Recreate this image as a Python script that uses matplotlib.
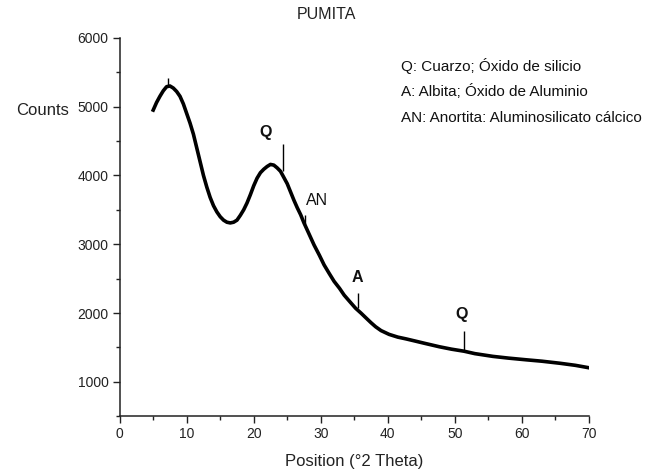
import matplotlib

matplotlib.use("Agg")
import matplotlib.pyplot as plt
from matplotlib.ticker import MultipleLocator

plt.rcParams["font.family"] = ["Liberation Sans", "DejaVu Sans"]

# Diffractogram background read-out: 2-theta position and counts
two_theta = [
    5.0, 5.5, 6.0, 6.5, 7.0, 7.5, 8.0, 8.5, 9.0, 9.5, 10.0, 10.5, 11.0,
    11.5, 12.0, 12.5, 13.0, 13.5, 14.0, 14.5, 15.0, 15.5, 16.0, 16.5, 17.0,
    17.5, 18.0, 18.5, 19.0, 19.5, 20.0, 20.5, 21.0, 21.5, 22.0, 22.5, 23.0,
    23.5, 24.0, 24.5, 25.0, 25.5, 26.0, 26.5, 27.0, 27.5, 28.3, 29.0, 29.8,
    30.5, 31.3, 32.0, 32.8, 33.5, 34.3, 35.2, 36.0, 36.8, 37.5, 38.2, 39.0,
    40.2, 41.5, 42.7, 44.0, 45.5, 47.7, 49.5, 51.4, 53.0, 55.7, 58.0, 60.7,
    63.0, 65.7, 68.0, 70.0,
]
counts = [
    4950, 5060, 5150, 5230, 5290, 5300, 5270, 5220, 5150, 5040, 4900, 4760,
    4600, 4400, 4200, 4000, 3830, 3680, 3560, 3470, 3400, 3350, 3320, 3310,
    3320, 3350, 3420, 3500, 3600, 3720, 3850, 3960, 4040, 4090, 4130, 4160,
    4150, 4110, 4060, 3970, 3880, 3760, 3640, 3530, 3430, 3310, 3140, 2990,
    2840, 2700, 2570, 2460, 2360, 2260, 2170, 2070, 2000, 1925, 1860, 1800,
    1745, 1690, 1650, 1625, 1595, 1560, 1510, 1475, 1445, 1410, 1370, 1345,
    1320, 1300, 1270, 1240, 1205,
]

# Sharp reflections: position, base and top counts
spike_x = [7.2, 24.3, 27.6, 35.5, 51.4]
spike_base = [5290, 4060, 3300, 2070, 1445]
spike_top = [5420, 4460, 3430, 2290, 1740]

# Phase labels placed over their reflections
peak_labels = ["Q", "AN", "A", "Q"]
peak_x = [21.7, 29.5, 35.4, 51.0]
peak_y = [4620, 3640, 2520, 1975]
peak_bold = [True, False, True, True]

legend_lines = [
    "Q: Cuarzo; Óxido de silicio",
    "A: Albita; Óxido de Aluminio",
    "AN: Anortita: Aluminosilicato cálcico",
]

fig = plt.figure(figsize=(6.47, 4.73), dpi=100)
ax = fig.add_axes([0.185, 0.120, 0.725, 0.800])

ax.plot(two_theta, counts, color="black", lw=2.6, solid_joinstyle="round")
ax.vlines(spike_x, spike_base, spike_top, color="black", lw=1.0)

ax.set_xlim(0, 70)
ax.set_ylim(500, 6000)
ax.xaxis.set_major_locator(MultipleLocator(10))
ax.xaxis.set_minor_locator(MultipleLocator(5))
ax.yaxis.set_minor_locator(MultipleLocator(500))
ax.set_yticks(range(1000, 6001, 1000))
ax.tick_params(which="major", direction="out", length=5, width=1, labelsize=10,
               colors="#222222", pad=3)
ax.tick_params(which="minor", direction="out", length=3, width=1, colors="#222222")
for side in ("top", "right"):
    ax.spines[side].set_visible(False)
for side in ("left", "bottom"):
    ax.spines[side].set_linewidth(1.1)
    ax.spines[side].set_color("#222222")

ax.set_xlabel("Position (°2 Theta)", fontsize=12, color="#222222", labelpad=9)
fig.text(0.106, 0.766, "Counts", ha="right", va="center", fontsize=12, color="#222222")
fig.text(0.504, 0.970, "PUMITA", ha="center", va="center", fontsize=11.5, color="#222222")

for lab, x, y, bold in zip(peak_labels, peak_x, peak_y, peak_bold):
    ax.text(x, y, lab, ha="center", va="center", fontsize=11.5,
            fontweight="bold" if bold else "normal", color="#111111")

for i, line in enumerate(legend_lines):
    fig.text(0.620, 0.861 - i * 0.0555, line, ha="left", va="center", fontsize=11,
             color="#111111")

fig.savefig("out.png", dpi=100, facecolor="white")
